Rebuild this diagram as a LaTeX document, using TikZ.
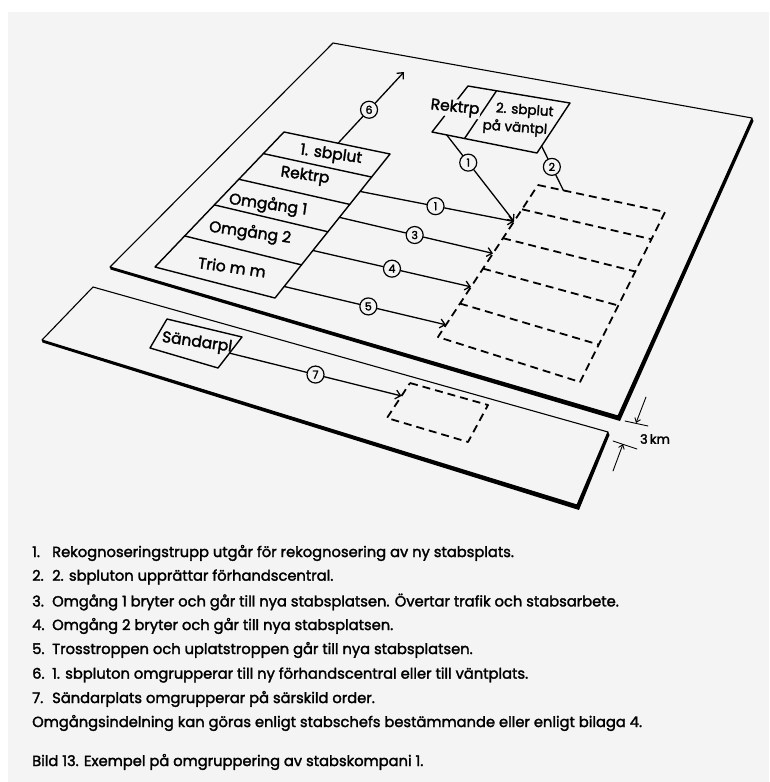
\documentclass[tikz,border=0pt]{standalone}
\usepackage{fontspec}
\setmainfont{Poppins}[FakeBold=2]
\usepackage{tikz}
\usetikzlibrary{calc}
\usetikzlibrary{arrows.meta}
\definecolor{paper}{RGB}{244,244,244}

\begin{document}
\begin{tikzpicture}[
  x=1pt,y=-1pt,
  line cap=round,
  line join=round,
  >={Straight Barb[length=5pt,width=9pt]},
  plate/.style={draw=black,line width=1.1pt},
  box/.style={draw=black,line width=1.4pt},
  target/.style={draw=black,line width=1.8pt,dash pattern=on 8pt off 5pt,line cap=butt},
  move/.style={draw=black,line width=1.3pt},
  dim/.style={draw=black,line width=0.9pt},
  num/.style={circle,draw=black,line width=1.2pt,fill=paper,inner sep=0pt,minimum size=17pt,font=\fontsize{11}{11}\selectfont},
  lbl/.style={font=\fontsize{15.5}{16}\selectfont,rotate=-8,inner sep=1pt},
  txt/.style={anchor=west,font=\fontsize{14.7}{15}\selectfont,inner sep=0pt}
]
\useasboundingbox (0,0) rectangle (769,782);
\fill[white] (0,0) rectangle (769,782);
\fill[paper] (8,12) rectangle (769,782);

% Upper plate: the present and the new staff site
\coordinate (UL) at (110,267);
\coordinate (UT) at (333,43);
\coordinate (UR) at (752,118);
\coordinate (UB) at (618,416);
\fill (UL) -- (UB) -- (UR) -- ++(1.5,3) -- ($(UB)+(2,5)$) -- ($(UL)+(0.5,2.5)$) -- cycle;
\draw[plate] (UL) -- (UT) -- (UR) -- (UB) -- cycle;

% Lower strip: transmitter site
\coordinate (SL) at (42,340);
\coordinate (ST) at (93,287);
\coordinate (SR) at (608,432);
\coordinate (SB) at (577,505);
\fill (SL) -- (SB) -- (SR) -- ++(1.5,3) -- ($(SB)+(2,5)$) -- ($(SL)+(0.5,2.5)$) -- cycle;
\draw[plate] (SL) -- (ST) -- (SR) -- (SB) -- cycle;

% old site, five groups
\coordinate (A1) at (284,132);
\coordinate (A2) at (390,154);
\coordinate (A3) at (275,298);
\coordinate (A4) at (155,267);
\draw[box] (A1) -- (A2) -- (A3) -- (A4) -- cycle;
\foreach \f in {0.16,0.35,0.54,0.77}
  \draw[box] ($(A1)!\f!(A4)$) -- ($(A2)!\f!(A3)$);
\node[lbl] (sbplut1) at (331,155) {1. sbplut};
\node[lbl] (rektrp1) at (305,176) {Rektrp};
\node[lbl] (omg1)    at (268,205) {Omgång 1};
\node[lbl] (omg2)    at (250,233) {Omgång 2};
\node[lbl] (trio)    at (232,267) {Trio m m};

% new site (dashed)
\coordinate (T1) at (538,185);
\coordinate (T2) at (665,212);
\coordinate (T3) at (580,382);
\coordinate (T4) at (438,337);
\draw[target] (T1) -- (T2) -- (T3) -- (T4) -- cycle;
\foreach \f in {0.16,0.35,0.55,0.78}
  \draw[target] ($(T1)!\f!(T4)$) -- ($(T2)!\f!(T3)$);

% reconnaissance and waiting place
\coordinate (R1) at (468,86);
\coordinate (R2) at (570,103);
\coordinate (R3) at (537,153);
\coordinate (R4) at (432,132);
\draw[box] (R1) -- (R2) -- (R3) -- (R4) -- cycle;
\draw[box] ($(R1)!0.28!(R2)$) -- ($(R4)!0.31!(R3)$);
\node[lbl,fill=paper,rotate=2] (rektrp2) at (455,108) {Rektrp};
\node[lbl,rotate=4,align=left,inner sep=0pt,font=\fontsize{13.5}{18}\selectfont] (sbplut2) at (524,120)
  {2. sbplut\\\hspace*{-12pt}på väntpl};

% transmitter boxes
\coordinate (K1) at (167,319);
\coordinate (K2) at (242,337);
\coordinate (K3) at (218,368);
\coordinate (K4) at (150,348);
\draw[box] (K1) -- (K2) -- (K3) -- (K4) -- cycle;
\node[lbl] (sandarpl) at (197,343) {Sändarpl};
\coordinate (D1) at (410,383);
\coordinate (D2) at (488,405);
\coordinate (D3) at (468,442);
\coordinate (D4) at (387,418);
\draw[target] (D1) -- (D2) -- (D3) -- (D4) -- cycle;

% movements
\coordinate (s6) at ($(A1)!0.51!(A2)$);
\coordinate (e6) at (404,72);
\coordinate (s1) at ($(A2)!0.26!(A3)$);
\coordinate (s3) at ($(A2)!0.44!(A3)$);
\coordinate (s4) at ($(A2)!0.67!(A3)$);
\coordinate (s5) at ($(A2)!0.92!(A3)$);
\coordinate (e1) at ($(T1)!0.24!(T4)$);
\coordinate (e3) at ($(T1)!0.45!(T4)$);
\coordinate (e4) at ($(T1)!0.67!(T4)$);
\coordinate (e5) at ($(T1)!0.92!(T4)$);
\coordinate (r1) at ($(R4)!0.14!(R3)$);
\coordinate (r2) at ($(R2)!0.86!(R3)$);
\coordinate (e2) at ($(T1)!0.2!(T2)$);
\coordinate (s7) at ($(K2)!0.52!(K3)$);
\coordinate (e7) at ($(D1)!0.37!(D4)$);

\path (s6) -- (e6) node[num,pos=0.47] (c6) {6};
\path (s1) -- (e1) node[num,pos=0.49] (c1) {1};
\path (s3) -- (e3) node[num,pos=0.49] (c3) {3};
\path (s4) -- (e4) node[num,pos=0.5]  (c4) {4};
\path (s5) -- (e5) node[num,pos=0.52] (c5) {5};
\path (r1) -- (e1) node[num,pos=0.32] (c1r) {1};
\path (r2) -- (e2) node[num,pos=0.47] (c2) {2};
\path (s7) -- (e7) node[num,pos=0.5]  (c7) {7};

\draw[move,->] (s6) -- (c6) -- (e6);
\draw[move,->] (s1) -- (c1) -- (e1);
\draw[move,->] (s3) -- (c3) -- (e3);
\draw[move,->] (s4) -- (c4) -- (e4);
\draw[move,->] (s5) -- (c5) -- (e5);
\draw[move,->] (r1) -- (c1r) -- (e1);
\draw[move]    (r2) -- (c2) -- (e2);
\draw[move,->] (s7) -- (c7) -- (e7);

% distance between the sites
\coordinate (k1) at (625,421);
\coordinate (k2) at (648,426);
\coordinate (k3) at (613,441);
\coordinate (k4) at (637,449);
\coordinate (k5) at (646,397);
\coordinate (k6) at (636,423);
\coordinate (k7) at (613,471);
\coordinate (k8) at (623,444);
\draw[dim] (k1) -- (k2);
\draw[dim] (k3) -- (k4);
\draw[dim,-{Straight Barb[length=4pt,width=6pt]}] (k5) -- (k6);
\draw[dim,-{Straight Barb[length=4pt,width=6pt]}] (k7) -- (k8);
\node[font=\fontsize{13}{13}\selectfont,inner sep=0pt] (km) at (655,439) {3\,km};

% explanation
\node[txt] (l1) at (32,553) {\makebox[20pt][l]{1.}Rekognoseringstrupp utgår för rekognosering av ny stabsplats.};
\node[txt] (l2) at (32,577) {\makebox[20pt][l]{2.}2. sbpluton upprättar förhandscentral.};
\node[txt] (l3) at (32,602) {\makebox[20pt][l]{3.}Omgång 1 bryter och går till nya stabsplatsen. Övertar trafik och stabsarbete.};
\node[txt] (l4) at (32,626) {\makebox[20pt][l]{4.}Omgång 2 bryter och går till nya stabsplatsen.};
\node[txt] (l5) at (32,650) {\makebox[20pt][l]{5.}Trosstroppen och uplatstroppen går till nya stabsplatsen.};
\node[txt] (l6) at (32,675) {\makebox[20pt][l]{6.}1. sbpluton omgrupperar till ny förhandscentral eller till väntplats.};
\node[txt] (l7) at (32,699) {\makebox[20pt][l]{7.}Sändarplats omgrupperar på särskild order.};
\node[txt] (l8) at (32,723) {Omgångsindelning kan göras enligt stabschefs bestämmande eller enligt bilaga 4.};
\node[txt] (cap) at (32,762) {Bild 13. Exempel på omgruppering av stabskompani 1.};

\end{tikzpicture}
\end{document}
